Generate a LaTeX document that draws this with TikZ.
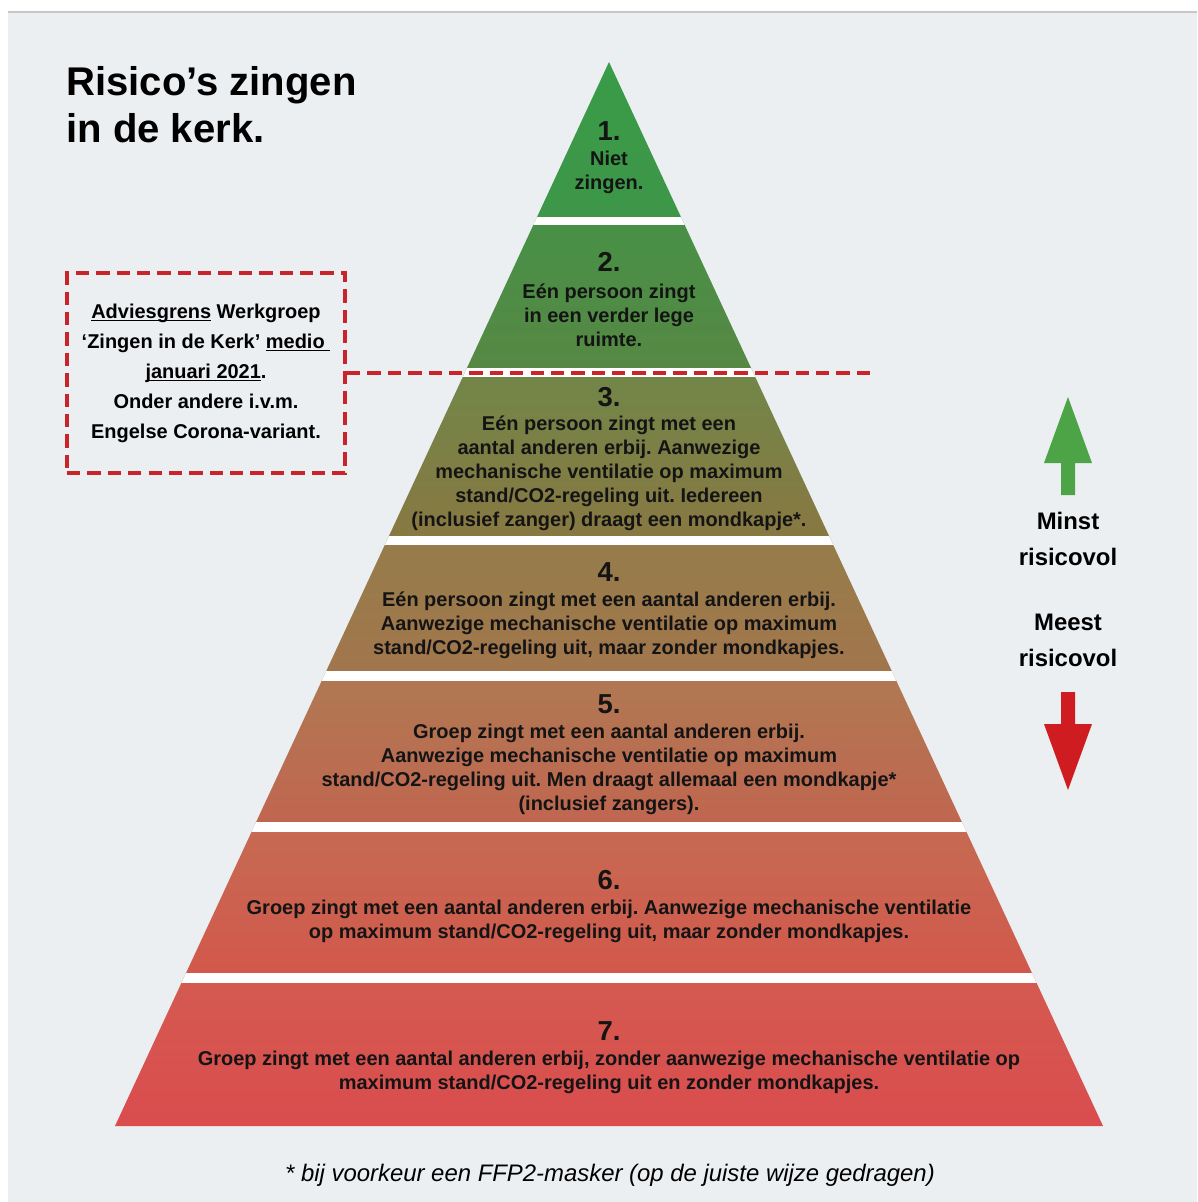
\documentclass[tikz,border=0pt]{standalone}
\usepackage{fontspec}
\setmainfont{Liberation Sans}
\usepackage{tikz}
\usetikzlibrary{positioning}
\frenchspacing

\definecolor{bgcol}{RGB}{236,239,242}
\definecolor{grensrood}{RGB}{200,36,42}
\definecolor{pijlgroen}{RGB}{76,164,70}
\definecolor{pijlrood}{RGB}{206,28,32}
\definecolor{c1t}{RGB}{56,156,72}
\definecolor{c1b}{RGB}{62,150,72}
\definecolor{c2t}{RGB}{72,144,70}
\definecolor{c2b}{RGB}{86,136,68}
\definecolor{c3t}{RGB}{114,134,72}
\definecolor{c3b}{RGB}{136,120,66}
\definecolor{c4t}{RGB}{150,124,74}
\definecolor{c4b}{RGB}{162,118,76}
\definecolor{c5t}{RGB}{176,120,82}
\definecolor{c5b}{RGB}{192,102,80}
\definecolor{c6t}{RGB}{198,106,82}
\definecolor{c6b}{RGB}{210,88,76}
\definecolor{c7t}{RGB}{212,90,80}
\definecolor{c7b}{RGB}{218,76,78}

\pgfdeclareverticalshading{piramide}{100bp}{color(0bp)=(c7b); color(25bp)=(c7b);
  color(31.7bp)=(c7t); color(32.2bp)=(c6b); color(38.8bp)=(c6t); color(39.3bp)=(c5b);
  color(45.9bp)=(c5t); color(46.4bp)=(c4b); color(52.3bp)=(c4t); color(52.7bp)=(c3b);
  color(60.2bp)=(c3t); color(60.6bp)=(c2b); color(67.3bp)=(c2t); color(67.7bp)=(c1b);
  color(75bp)=(c1t); color(100bp)=(c1t)}

\begin{document}
\begin{tikzpicture}[
    x=0.025cm, y=-0.025cm,
    bandtext/.style={font=\bfseries\fontsize{14.2}{17.1}\selectfont, align=center, inner sep=0pt, text=black!92},
    bandnum/.style={font=\bfseries\fontsize{19.5}{22}\selectfont, inner sep=0pt, text=black!92},
    grens/.style={draw=grensrood, line width=2.8pt, dash pattern=on 9.5pt off 5pt},
    advies/.style={grens, minimum width=6.95cm, minimum height=5cm, align=center, font=\bfseries\fontsize{14.2}{21.3}\selectfont},
    zijlabel/.style={font=\bfseries\fontsize{17}{25.6}\selectfont, align=center, inner sep=0pt},
    titel/.style={font=\bfseries\fontsize{28.5}{33.4}\selectfont, align=left, inner sep=0pt},
    voetnoot/.style={font=\itshape\fontsize{17}{20}\selectfont, inner sep=0pt}
]
    \useasboundingbox (0,0) rectangle (1197,1202);
    \fill[bgcol] (8,12) rectangle (1197,1202);
    \draw[black!22, line width=1.2pt] (8,12) -- (1197,12);

    \coordinate (top) at (609,62);
    \coordinate (linksonder) at (115,1126);
    \coordinate (rechtsonder) at (1103,1126);
    \shade[shading=piramide] (top) -- (rechtsonder) -- (linksonder) -- cycle;
    \begin{scope}
        \clip (top) -- (rechtsonder) -- (linksonder) -- cycle;
        \foreach \a/\b in {217/225, 368/377, 536/545, 671/681, 822/832, 973/983}
            \fill[white] (100,\a) rectangle (1120,\b);
    \end{scope}

    \node[titel, anchor=north west] (kop) at (66,66) {Risico’s zingen\\in de kerk.};

    \node[advies] (grensbox) at (206,373) {\underline{\smash{Adviesgrens}} Werkgroep\\‘Zingen in de Kerk’ \underline{\smash{medio\ }}\\\underline{\smash{januari 2021}}.\\Onder andere i.v.m.\\Engelse Corona-variant.};
    \coordinate (grenseind) at (870,373);

    \node[bandnum] (n1) at (609,131) {1.};
    \node[bandtext] (t1) at (609,172) {Niet\\zingen.};
    \node[bandnum] (n2) at (609,262) {2.};
    \node[bandtext] (t2) at (609,315) {Eén persoon zingt\\in een verder lege\\ruimte.};
    \node[bandnum] (n3) at (609,397) {3.};
    \node[bandtext] (t3) at (609,473) {Eén persoon zingt met een\\aantal anderen erbij. Aanwezige\\mechanische ventilatie op maximum\\stand/CO2-regeling uit. Iedereen\\(inclusief zanger) draagt een mondkapje*.};
    \node[bandnum] (n4) at (609,572) {4.};
    \node[bandtext] (t4) at (609,625) {Eén persoon zingt met een aantal anderen erbij.\\Aanwezige mechanische ventilatie op maximum\\stand/CO2-regeling uit, maar zonder mondkapjes.};
    \node[bandnum] (n5) at (609,704) {5.};
    \node[bandtext] (t5) at (609,769) {Groep zingt met een aantal anderen erbij.\\Aanwezige mechanische ventilatie op maximum\\stand/CO2-regeling uit. Men draagt allemaal een mondkapje*\\(inclusief zangers).};
    \node[bandnum] (n6) at (609,880) {6.};
    \node[bandtext] (t6) at (609,921) {Groep zingt met een aantal anderen erbij. Aanwezige mechanische ventilatie\\op maximum stand/CO2-regeling uit, maar zonder mondkapjes.};
    \node[bandnum] (n7) at (609,1031) {7.};
    \node[bandtext] (t7) at (609,1072) {Groep zingt met een aantal anderen erbij, zonder aanwezige mechanische ventilatie op\\maximum stand/CO2-regeling uit en zonder mondkapjes.};

    \draw[grens] (grensbox.east) -- (grensbox.east -| grenseind);

    \fill[pijlgroen] (1061,495) -- (1061,463) -- (1044,463) -- (1068,397) -- (1092,463) -- (1075,463) -- (1075,495) -- cycle;
    \fill[pijlrood] (1061,692) -- (1061,724) -- (1044,724) -- (1068,790) -- (1092,724) -- (1075,724) -- (1075,692) -- cycle;
    \node[zijlabel] (minst) at (1068,539) {Minst\\risicovol};
    \node[zijlabel] (meest) at (1068,640) {Meest\\risicovol};

    \node[voetnoot] (noot) at (610,1175) {* bij voorkeur een FFP2-masker (op de juiste wijze gedragen)};
\end{tikzpicture}
\end{document}
